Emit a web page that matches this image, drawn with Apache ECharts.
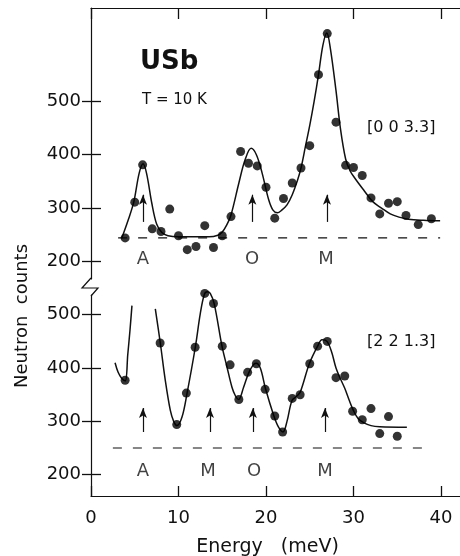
<!DOCTYPE html>
<html>
<head>
<meta charset="utf-8">
<script src="https://cdn.jsdelivr.net/npm/echarts@6/dist/echarts.min.js"></script>
<style>
html,body{margin:0;padding:0;background:#fff;}
#chart{width:460px;height:556px;}
</style>
</head>
<body>
<div id="chart"></div>
<script>
// ---- data ----
const energyTicks = [0, 10, 20, 30, 40];
const countTicks = [200, 300, 400, 500];

// Upper panel [0 0 3.3]
const upperPointsE = [3.9,5.0,5.9,7.0,8.0,9.0,10.0,11.0,12.0,13.0,14.0,15.0,16.0,17.1,18.0,19.0,20.0,21.0,22.0,23.0,24.0,25.0,26.0,27.0,28.0,29.1,30.0,31.0,32.0,33.0,34.0,35.0,36.0,37.4,38.9];
const upperPointsC = [244,311,381,261,256,298,248,222,228,267,226,248,284,406,384,379,339,281,318,347,375,417,550,627,461,380,376,361,319,289,309,312,286,269,280];
const upperCurveE = [3.5,4.3,4.9,5.5,5.95,6.35,6.95,7.5,8.1,8.8,10,12,13.5,14.5,15.0,15.5,16.0,16.9,17.6,18.3,18.9,19.55,20.3,20.8,21.3,21.8,22.4,23.0,23.6,24.0,24.5,25.0,25.5,26.0,26.5,26.95,27.35,28.0,28.5,29.1,29.6,30.2,31.2,32.2,33.2,34.2,35.2,36.3,38.0,39.9];
const upperCurveC = [243,280,312,365,383,365,309,270,254,248,246,246,246,249,255,268,287,347,390,412,400,366,316,296,291,296,306,325,352,375,415,455,500,550,605,628,600,520,450,392,370,355,333,312,300,289,283,279,277,276];
const upperBaseE = [3.1, 39.9];
const upperBaseC = [244, 244];
const upperLabels = ['A', 'O', 'M'];
const upperLabelE = [5.94, 18.4, 26.86];
const upperLabelC = 203;
const upperArrowE = [5.94, 18.44, 26.97];
const upperArrowC = [274, 325];

// Lower panel [2 2 1.3]
const lowerPointsE = [3.9,7.9,9.8,10.9,11.9,13.0,14.0,15.0,15.9,16.9,17.9,18.9,19.9,21.0,21.9,23.0,23.9,25.0,25.9,27.0,28.0,29.0,29.9,31.0,32.0,33.0,34.0,35.0];
const lowerPointsC = [377,447,294,353,439,540,521,441,406,341,392,408,360,310,280,343,350,408,441,450,382,385,319,303,324,277,309,272];
const lowerCurveE = [2.75,3.1,3.5,3.92,4.2,4.45,4.68, 6.0, 7.35,7.92,8.49,9.06,9.45,9.82,10.4,10.97,11.92,12.49,12.95,13.3,13.63,14.09,14.97,15.54,16.11,16.5,16.87,17.44,18.0,18.5,18.85,19.35,19.93,20.88,21.4,21.94,22.4,22.97,23.5,23.92,24.95,25.9,26.4,26.97,27.5,28.0,28.5,29.0,29.5,30.0,30.5,31.2,32.0,33.0,36.1];
const lowerCurveC = [410,392,381,376,425,470,517, null, 511,447,377,321,300,292,308,352,439,502,538,543,540,520,441,402,364,348,341,364,390,405,409,400,362,311,290,280,300,339,347,355,408,441,453,450,430,400,380,362,340,320,306,297,292,290,289];
const lowerBaseE = [2.5, 38.5];
const lowerBaseC = [250, 250];
const lowerLabels = ['A', 'M', 'O', 'M'];
const lowerLabelE = [5.94, 13.37, 18.63, 26.74];
const lowerLabelC = 206;
const lowerArrowE = [5.94, 13.6, 18.5, 26.74];
const lowerArrowC = [280, 325];

// ---- chart ----
const FONT = 'DejaVu Sans';
const INK = '#111';
const X_MAX = 42.4;

function pairs(xs, ys) {
  return xs.map((x, i) => (ys[i] === null ? [x, '-'] : [x, ys[i]]));
}
function arrows(xs, ys) {
  return xs.map(x => [{ coord: [x, ys[0]] }, { coord: [x, ys[1]] }]);
}
function letters(names, xs, y) {
  return names.map((n, i) => ({ name: n, value: [xs[i], y] }));
}

const chart = echarts.init(document.getElementById('chart'), null, { renderer: 'canvas' });

const xBase = {
  type: 'value', min: 0, max: X_MAX, interval: 10,
  splitLine: { show: false },
  axisLine: { show: true, onZero: false, lineStyle: { color: INK, width: 1.2 } }
};
const yLeft = {
  type: 'value', position: 'left',
  splitLine: { show: false },
  axisLine: { show: true, onZero: false, lineStyle: { color: INK, width: 1.2 } },
  axisTick: { show: true, inside: true, length: 10, customValues: countTicks, lineStyle: { color: INK, width: 1.3 } },
  axisLabel: { show: true, customValues: countTicks, margin: 10, color: INK, fontFamily: FONT, fontSize: 18 }
};
const yRight = {
  type: 'value', position: 'right',
  splitLine: { show: false },
  axisLine: { show: false },
  axisTick: { show: true, inside: true, length: 9, customValues: countTicks, lineStyle: { color: INK, width: 1.3 } },
  axisLabel: { show: false }
};

const lineSeries = (xi, yi, data) => ({
  type: 'line', xAxisIndex: xi, yAxisIndex: yi, data: data,
  smooth: 0.35, showSymbol: false, symbol: 'none', connectNulls: false, clip: false,
  lineStyle: { color: INK, width: 1.5 }, silent: true, z: 3
});
const scatterSeries = (xi, yi, data) => ({
  type: 'scatter', xAxisIndex: xi, yAxisIndex: yi, data: data, clip: false,
  symbol: 'circle', symbolSize: 9, itemStyle: { color: '#000' }, silent: true, z: 4
});
const baseSeries = (xi, yi, data) => ({
  type: 'line', xAxisIndex: xi, yAxisIndex: yi, data: data,
  showSymbol: false, symbol: 'none',
  lineStyle: { color: INK, width: 1.1, type: [9, 11] }, silent: true, z: 2
});
const arrowSeries = (xi, yi, data) => ({
  type: 'line', xAxisIndex: xi, yAxisIndex: yi, data: [], silent: true,
  markLine: {
    silent: true, animation: false,
    symbol: ['none', 'arrow'], symbolSize: [6, 10],
    label: { show: false },
    lineStyle: { color: INK, width: 1.2, type: 'solid' },
    emphasis: { disabled: true },
    data: data
  }
});
const letterSeries = (xi, yi, data) => ({
  type: 'scatter', xAxisIndex: xi, yAxisIndex: yi, data: data,
  symbolSize: 1, itemStyle: { color: 'rgba(0,0,0,0)' }, silent: true,
  label: { show: true, position: 'inside', formatter: p => p.name,
           color: INK, textBorderWidth: 0, textBorderColor: 'transparent',
           fontFamily: FONT, fontSize: 18, align: 'center', verticalAlign: 'middle' }
});

const option = {
  animation: false,
  backgroundColor: '#fff',
  grid: [
    { left: 91, top: 8, width: 371, height: 271, outerBoundsMode: 'none' },
    { left: 91, top: 295, width: 371, height: 201, outerBoundsMode: 'none' }
  ],
  xAxis: [
    Object.assign({}, xBase, { gridIndex: 0, position: 'top',
      axisTick: { show: true, inside: true, length: 11, lineStyle: { color: INK, width: 1.3 } },
      axisLabel: { show: false } }),
    Object.assign({}, xBase, {
      gridIndex: 1, position: 'bottom',
      axisTick: { show: true, inside: true, length: 10, lineStyle: { color: INK, width: 1.3 } },
      axisLabel: { show: true, customValues: energyTicks, margin: 13, color: INK, fontFamily: FONT, fontSize: 18 },
      name: 'Energy   (meV)', nameLocation: 'middle', nameGap: 42,
      nameTextStyle: { color: INK, fontFamily: FONT, fontSize: 19, padding: [0, 18, 0, 0] }
    })
  ],
  yAxis: [
    Object.assign({}, yLeft, { gridIndex: 0, min: 167, max: 675 }),
    Object.assign({}, yRight, { gridIndex: 0, min: 167, max: 675 }),
    Object.assign({}, yLeft, { gridIndex: 1, min: 160, max: 537 }),
    Object.assign({}, yRight, { gridIndex: 1, min: 160, max: 537 })
  ],
  series: [
    baseSeries(0, 0, pairs(upperBaseE, upperBaseC)),
    lineSeries(0, 0, pairs(upperCurveE, upperCurveC)),
    scatterSeries(0, 0, pairs(upperPointsE, upperPointsC)),
    arrowSeries(0, 0, arrows(upperArrowE, upperArrowC)),
    letterSeries(0, 0, letters(upperLabels, upperLabelE, upperLabelC)),

    baseSeries(1, 2, pairs(lowerBaseE, lowerBaseC)),
    lineSeries(1, 2, pairs(lowerCurveE, lowerCurveC)),
    scatterSeries(1, 2, pairs(lowerPointsE, lowerPointsC)),
    arrowSeries(1, 2, arrows(lowerArrowE, lowerArrowC)),
    letterSeries(1, 2, letters(lowerLabels, lowerLabelE, lowerLabelC))
  ],
  graphic: [
    { type: 'polyline', silent: true, shape: { points: [[91, 278], [82, 288], [98, 288], [91, 296]] },
      style: { stroke: INK, lineWidth: 1.2, fill: null } },
    { type: 'text', left: 140, top: 49, silent: true,
      style: { text: 'USb', fill: INK, font: 'bold 26px "DejaVu Sans"' } },
    { type: 'text', left: 142, top: 93, silent: true,
      style: { text: 'T = 10 K', fill: INK, font: '15px "DejaVu Sans"' } },
    { type: 'text', left: 367, top: 120, silent: true,
      style: { text: '[0 0 3.3]', fill: INK, font: '16px "DejaVu Sans"' } },
    { type: 'text', left: 367, top: 334, silent: true,
      style: { text: '[2 2 1.3]', fill: INK, font: '16px "DejaVu Sans"' } },
    { type: 'text', x: 22, y: 316, rotation: Math.PI / 2, silent: true,
      style: { text: 'Neutron  counts', fill: INK, font: '18px "DejaVu Sans"', align: 'center', verticalAlign: 'middle' } }
  ]
};
chart.setOption(option);
</script>
</body>
</html>
